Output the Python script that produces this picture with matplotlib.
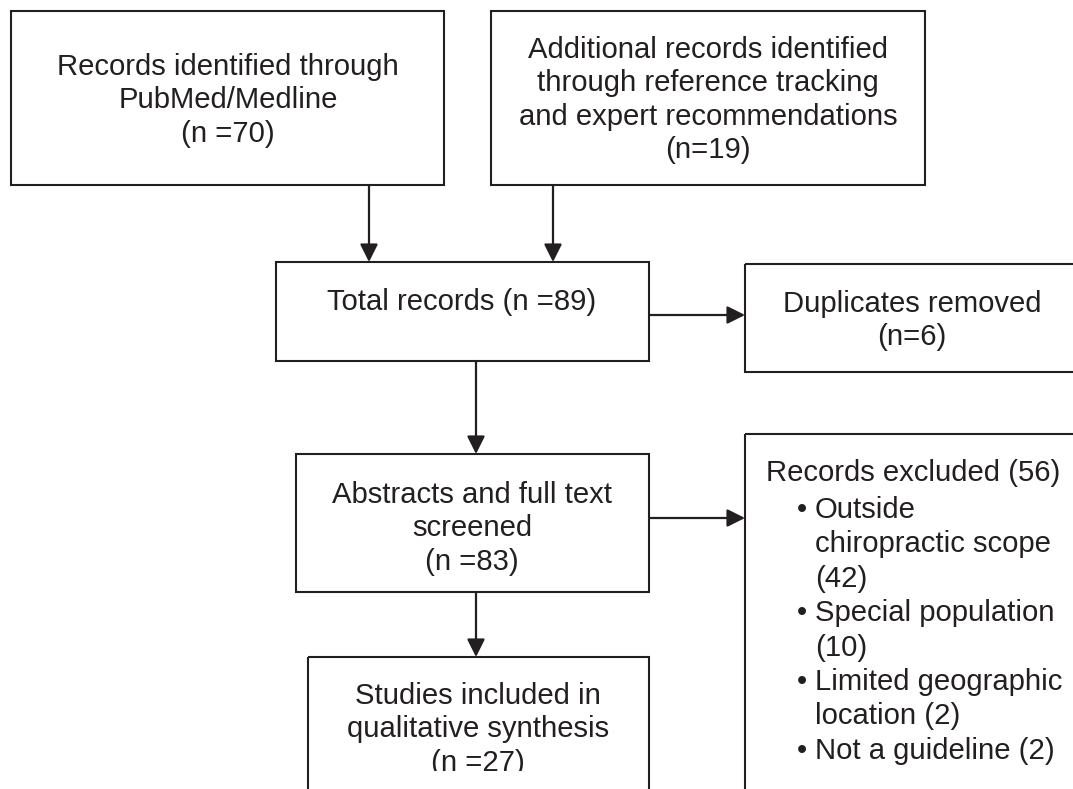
import matplotlib.pyplot as plt
from matplotlib.patches import Rectangle

# Flow counts
n_pubmed = 70
n_additional = 19
n_total = 89
n_duplicates = 6
n_screened = 83
n_excluded = 56
n_included = 27
exclusion_reasons = [["Outside", "chiropractic scope", "({})"],
                     ["Special population", "({})"],
                     ["Limited geographic", "location ({})"],
                     ["Not a guideline ({})"]]
exclusion_counts = [42, 10, 2, 2]

plt.rcParams['font.family'] = ['Liberation Sans', 'DejaVu Sans']
INK = '#231f20'
FS = 21.1
DY = 2  # small nudge so text centres sit like the original

fig = plt.figure(figsize=(10.73, 7.89), dpi=100)
ax = fig.add_axes([0, 0, 1, 1])
ax.set_xlim(0, 1073)
ax.set_ylim(789, 0)
ax.axis('off')


def box(x0, y0, x1, y1):
    ax.add_patch(Rectangle((x0, y0), x1 - x0, y1 - y0, fill=False,
                           ec=INK, lw=1.5))


def lines(x, y0, texts, ha='center', step=33.3, clip=None):
    for i, t in enumerate(texts):
        txt = ax.text(x, y0 + DY + i * step, t, ha=ha, va='center',
                      fontsize=FS, color=INK)
        if clip is not None:
            txt.set_clip_on(True)
            txt.set_clip_path(clip)


def arrow(x0, y0, x1, y1):
    ax.annotate('', xy=(x1, y1), xytext=(x0, y0),
                arrowprops=dict(arrowstyle='-|>,head_length=0.6,head_width=0.3',
                                mutation_scale=18, lw=1.6, color=INK,
                                shrinkA=0, shrinkB=0))


# boxes
box(11, 11, 444, 185)
box(491, 11, 925, 185)
box(276, 262, 649, 361)
box(745, 264, 1085, 372)
box(296, 454, 649, 592)
box(745, 434, 1085, 800)
box(308, 657, 649, 800)

# texts
lines(228, 65, ["Records identified through", "PubMed/Medline",
                "(n ={})".format(n_pubmed)])
lines(708, 48, ["Additional records identified", "through reference tracking",
                "and expert recommendations", "(n={})".format(n_additional)])
lines(462, 300, ["Total records (n ={})".format(n_total)])
lines(912, 302, ["Duplicates removed", "(n={})".format(n_duplicates)])
lines(472, 493, ["Abstracts and full text", "screened",
                 "(n ={})".format(n_screened)])

# the bottom line is cut off in the original
clip = Rectangle((0, 0), 1073, 771, transform=ax.transData)
lines(478, 694, ["Studies included in", "qualitative synthesis",
                 "(n ={})".format(n_included)], clip=clip)

ax.text(766, 471 + DY, "Records excluded ({})".format(n_excluded), ha='left',
        va='center', fontsize=FS, color=INK)
y = 508 + DY
for reason, cnt in zip(exclusion_reasons, exclusion_counts):
    ax.text(797, y, "\u2022", ha='left', va='center', fontsize=FS, color=INK)
    for part in reason:
        ax.text(815, y, part.format(cnt), ha='left', va='center',
                fontsize=FS, color=INK)
        y += 34.4

# arrows
arrow(369, 185, 369, 262)
arrow(553, 185, 553, 262)
arrow(649, 315, 745, 315)
arrow(476, 361, 476, 454)
arrow(649, 518, 745, 518)
arrow(476, 592, 476, 657)

fig.savefig('out.png', dpi=100)
